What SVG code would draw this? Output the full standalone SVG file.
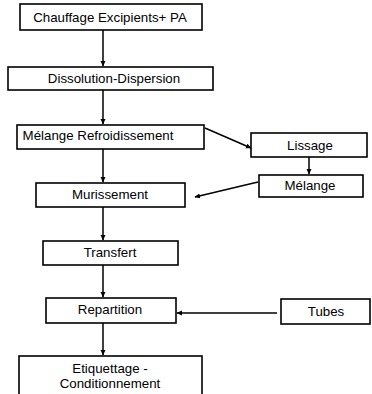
<svg xmlns="http://www.w3.org/2000/svg" width="372" height="394" viewBox="0 0 372 394">
<style>
.n rect{fill:#fff;stroke:#000;stroke-width:1.6}
text{font-family:"Liberation Sans",Arial,sans-serif;font-size:13.3px;fill:#000;text-anchor:middle}
.c line{stroke:#000;stroke-width:1.5;marker-end:url(#a)}
</style>
<defs>
<marker id="a" markerWidth="6" markerHeight="6" refX="5" refY="3" orient="auto" markerUnits="userSpaceOnUse">
<path d="M0,0.5 L5.5,3 L0,5.5 Z" fill="#000"/>
</marker>
</defs>
<rect width="372" height="394" fill="#fff"/>
<g class="n" id="n1"><rect x="20" y="4" width="182" height="26"/><text x="110" y="22">Chauffage Excipients+ PA</text></g>
<g class="n" id="n2"><rect x="8" y="67" width="205" height="23"/><text x="114" y="83">Dissolution-Dispersion</text></g>
<g class="n" id="n3"><rect x="17" y="125" width="187" height="24"/><text x="98" y="140">Mélange Refroidissement</text></g>
<g class="n" id="n4"><rect x="251" y="133" width="116" height="24"/><text x="310" y="150">Lissage</text></g>
<g class="n" id="n5"><rect x="259" y="175" width="104" height="22"/><text x="310" y="190">Mélange</text></g>
<g class="n" id="n6"><rect x="36" y="183" width="149" height="24"/><text x="110" y="199">Murissement</text></g>
<g class="n" id="n7"><rect x="43" y="241" width="135" height="24"/><text x="110" y="257">Transfert</text></g>
<g class="n" id="n8"><rect x="46" y="298" width="130" height="25"/><text x="110" y="314">Repartition</text></g>
<g class="n" id="n9"><rect x="281" y="299" width="89" height="25"/><text x="326" y="316">Tubes</text></g>
<g class="n" id="n10"><rect x="19" y="356" width="183" height="50"/><text x="110" y="373">Etiquettage -</text><text x="110" y="388">Conditionnement</text></g>
<g class="c" id="connectors">
<line x1="103" y1="30" x2="103" y2="66"/>
<line x1="103" y1="90" x2="103" y2="124"/>
<line x1="205" y1="128" x2="251" y2="148"/>
<line x1="309" y1="157" x2="309" y2="174"/>
<line x1="258" y1="182" x2="195" y2="197"/>
<line x1="103" y1="149" x2="103" y2="182"/>
<line x1="103" y1="207" x2="103" y2="240"/>
<line x1="103" y1="265" x2="103" y2="297"/>
<line x1="277" y1="313" x2="177" y2="313"/>
<line x1="103" y1="323" x2="103" y2="355"/>
</g>
</svg>
